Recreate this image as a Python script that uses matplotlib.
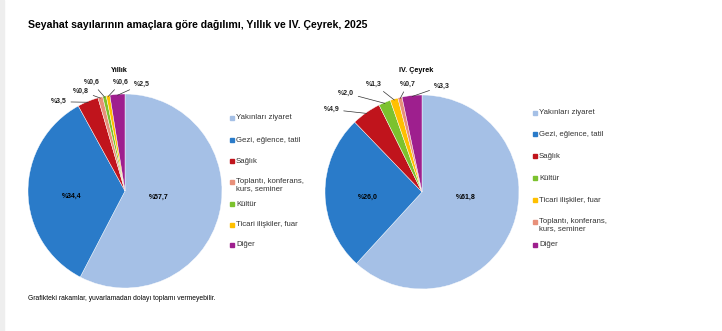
import numpy as np
import matplotlib
matplotlib.use("Agg")
import matplotlib.pyplot as plt
from matplotlib.patches import Rectangle

plt.rcParams['font.family'] = ['Liberation Sans', 'DejaVu Sans']

# yillik
yillik_labels = ['Yakınları ziyaret', 'Gezi, eğlence, tatil', 'Sağlık',
                 'Toplantı, konferans,\nkurs, seminer', 'Kültür',
                 'Ticari ilişkiler, fuar', 'Diğer']
yillik_values = [57.7, 34.4, 3.5, 0.8, 0.6, 0.6, 2.5]
yillik_colors = ['#a5c0e6', '#2a7bc9', '#c0141c', '#e8907a', '#7cc22e', '#ffc000', '#9e1f8e']

# IV. ceyrek
ceyrek_labels = ['Yakınları ziyaret', 'Gezi, eğlence, tatil', 'Sağlık', 'Kültür',
                 'Ticari ilişkiler, fuar', 'Toplantı, konferans,\nkurs, seminer', 'Diğer']
ceyrek_values = [61.8, 26.0, 4.9, 2.0, 1.3, 0.7, 3.3]
ceyrek_colors = ['#a5c0e6', '#2a7bc9', '#c0141c', '#7cc22e', '#ffc000', '#e8907a', '#9e1f8e']

W, H = 722, 331
fig = plt.figure(figsize=(W / 100, H / 100), dpi=100)
fig.patches.append(Rectangle((0, 0), 4 / W, 1, transform=fig.transFigure,
                             color='#eeeeee', zorder=0))

fig.text(28 / W, 1 - 25 / H, 'Seyahat sayılarının amaçlara göre dağılımı, Yıllık ve IV. Çeyrek, 2025',
         fontsize=7.6, fontweight='bold', va='center', ha='left')
fig.text(28 / W, 1 - 299 / H, 'Grafikteki rakamlar, yuvarlamadan dolayı toplamı vermeyebilir.',
         fontsize=4.9, va='center', ha='left')

R = 97


def fmt(v):
    return '%' + ('%.1f' % v).replace('.', ',')


def draw(cx, cy, values, colors, labels, title, title_xy, inner_pos, outer_pos, leg_x, leg_y):
    ax = fig.add_axes([(cx - R) / W, (H - cy - R) / H, 2 * R / W, 2 * R / H])
    wedges, _ = ax.pie(values, colors=colors, startangle=90, counterclock=False,
                       wedgeprops=dict(linewidth=0.3, edgecolor='white'))
    ax.set_xlim(-1, 1)
    ax.set_ylim(-1, 1)
    fig.text(title_xy[0] / W, 1 - title_xy[1] / H, title, fontsize=5.2, fontweight='bold',
             ha='center', va='center')
    for i, (tx, ty) in inner_pos.items():
        ax.text(tx, ty, fmt(values[i]), fontsize=5, fontweight='bold',
                ha='center', va='center')
    for i, (tx, ty, ha) in outer_pos.items():
        w = wedges[i]
        a = np.deg2rad((w.theta1 + w.theta2) / 2)
        ax.annotate(fmt(values[i]), xy=(np.cos(a) * 0.99, np.sin(a) * 0.99),
                    xytext=(tx, ty), fontsize=5, fontweight='bold', color='#222222',
                    ha=ha, va='center', annotation_clip=False,
                    arrowprops=dict(arrowstyle='-', color='#333333', lw=0.5,
                                    shrinkA=1, shrinkB=0))
    for lab, col, y in zip(labels, colors, leg_y):
        fig.patches.append(Rectangle(((leg_x - 2) / W, 1 - (y + 2) / H), 4 / W, 4 / H,
                                     transform=fig.transFigure, color=col))
        if '\n' in lab:
            fig.text((leg_x + 4) / W, 1 - (y - 4) / H, lab, fontsize=5.6, color='#333333',
                     va='top', ha='left', linespacing=1.1)
        else:
            fig.text((leg_x + 4) / W, 1 - y / H, lab, fontsize=5.6, color='#333333',
                     va='center', ha='left')


draw(125, 191, yillik_values, yillik_colors, yillik_labels, 'Yıllık', (119, 70),
     {0: (0.35, -0.07), 1: (-0.55, -0.06)},
     {2: (-0.60, 0.92, 'right'), 3: (-0.37, 1.03, 'right'),
      4: (-0.26, 1.12, 'right'), 5: (-0.12, 1.12, 'left'), 6: (0.09, 1.10, 'left')},
     232, [118, 140, 161, 182, 204, 225, 245])

draw(422, 192, ceyrek_values, ceyrek_colors, ceyrek_labels, 'IV. Çeyrek', (416, 71),
     {0: (0.45, -0.06), 1: (-0.56, -0.05)},
     {2: (-0.85, 0.85, 'right'), 3: (-0.70, 1.02, 'right'),
      4: (-0.41, 1.11, 'right'), 5: (-0.23, 1.11, 'left'), 6: (0.12, 1.09, 'left')},
     535, [113, 134, 156, 178, 200, 222, 245])

fig.savefig('out.png', dpi=100)
